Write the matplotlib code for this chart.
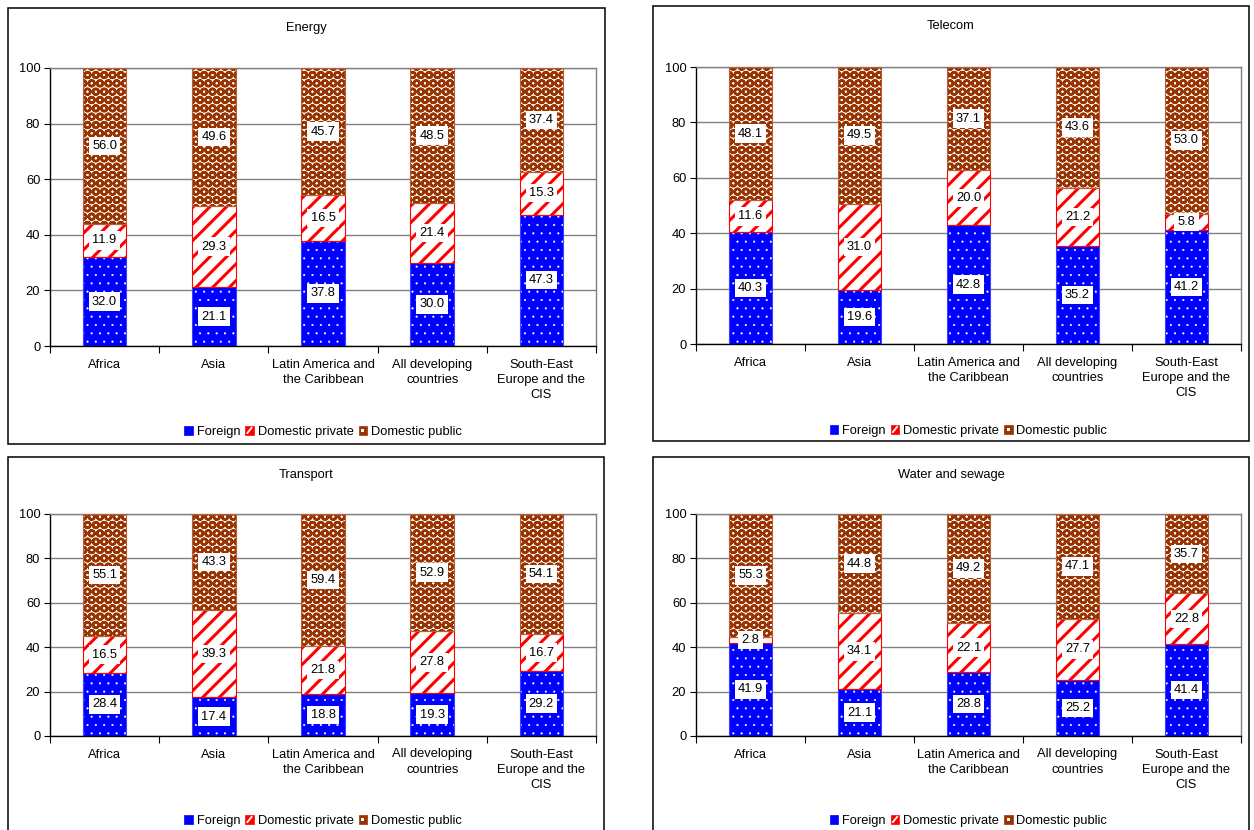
import numpy as np
import matplotlib
matplotlib.use("Agg")
import matplotlib.pyplot as plt
from matplotlib.patches import Rectangle
from matplotlib.lines import Line2D
from matplotlib.legend_handler import HandlerBase

plt.rcParams["font.family"] = ["Liberation Sans", "DejaVu Sans"]
plt.rcParams["font.size"] = 9.3

regions = ["Africa", "Asia", "Latin America and\nthe Caribbean",
           "All developing\ncountries", "South-East\nEurope and the\nCIS"]
series_names = ["Foreign", "Domestic private", "Domestic public"]

energy_foreign = [32.0, 21.1, 37.8, 30.0, 47.3]
energy_private = [11.9, 29.3, 16.5, 21.4, 15.3]
energy_public = [56.0, 49.6, 45.7, 48.5, 37.4]

telecom_foreign = [40.3, 19.6, 42.8, 35.2, 41.2]
telecom_private = [11.6, 31.0, 20.0, 21.2, 5.8]
telecom_public = [48.1, 49.5, 37.1, 43.6, 53.0]

transport_foreign = [28.4, 17.4, 18.8, 19.3, 29.2]
transport_private = [16.5, 39.3, 21.8, 27.8, 16.7]
transport_public = [55.1, 43.3, 59.4, 52.9, 54.1]

water_foreign = [41.9, 21.1, 28.8, 25.2, 41.4]
water_private = [2.8, 34.1, 22.1, 27.7, 22.8]
water_public = [55.3, 44.8, 49.2, 47.1, 35.7]

W, H = 1254, 830

# (title, data, panel box px, axes box px, title y px, legend offset)
panels = [
    ("Energy", (energy_foreign, energy_private, energy_public),
     (8, 8, 605, 444), (50, 68, 596, 346), 28, -0.309),
    ("Telecom", (telecom_foreign, telecom_private, telecom_public),
     (653, 6, 1249, 441), (696, 67, 1241, 344), 26, -0.314),
    ("Transport", (transport_foreign, transport_private, transport_public),
     (8, 457, 604, 845), (50, 514, 596, 736), 475, -0.383),
    ("Water and sewage", (water_foreign, water_private, water_public),
     (653, 457, 1249, 845), (696, 514, 1241, 736), 475, -0.383),
]

# face colour, hatch colour, hatch, hatch width, outline colour
styles = [
    ("#0000FF", "white", "..", 0.3, "#3f3fff"),
    ("white", "#FF0000", "//", 2.2, "#FF0000"),
    ("white", "#993300", "OO", 1.8, "#b5603a"),
]
key_marks = ["", "/", "o"]


class KeyHandler(HandlerBase):
    """Small square legend key with a white slash or inner square."""

    def create_artists(self, legend, orig_handle, xdescent, ydescent,
                       width, height, fontsize, trans):
        x0, y0 = -xdescent, -ydescent
        face = orig_handle.get_facecolor()
        mark = orig_handle.get_label()
        arts = [Rectangle((x0, y0), width, height, facecolor=face,
                          edgecolor=face, linewidth=0.5, transform=trans)]
        if mark == "/":
            arts.append(Line2D([x0 + width * 0.25, x0 + width * 0.75],
                               [y0 + height * 0.2, y0 + height * 0.8],
                               color="white", linewidth=1.3, transform=trans))
        elif mark == "o":
            arts.append(Rectangle((x0 + width * 0.3, y0 + height * 0.3),
                                  width * 0.4, height * 0.4, facecolor="white",
                                  edgecolor="none", transform=trans))
        return arts


def hatched_bar(ax, x, heights, bottoms, style, width=0.4):
    face, hcolor, hatch, hlw, outline = style
    with plt.rc_context({"hatch.linewidth": hlw}):
        bars = ax.bar(x, heights, width, bottom=bottoms, color=face,
                      edgecolor=hcolor, linewidth=0, hatch=hatch, zorder=2)
    for b in bars:
        if hasattr(b, "set_hatch_linewidth"):
            b.set_hatch_linewidth(hlw)
    ax.bar(x, heights, width, bottom=bottoms, fill=False,
           edgecolor=outline, linewidth=0.8, zorder=3)
    return bars


fig = plt.figure(figsize=(W / 100, H / 100), dpi=100)

for title, data, pbox, abox, ty, leg_y in panels:
    x0, y0, x1, y1 = pbox
    fig.add_artist(Rectangle((x0 / W, 1 - y1 / H), (x1 - x0) / W, (y1 - y0) / H,
                             transform=fig.transFigure, fill=False,
                             edgecolor="black", linewidth=1.1))
    fig.text((x0 + x1) / 2 / W, 1 - ty / H, title, ha="center", va="center")

    l, t, r, b = abox
    ax = fig.add_axes([l / W, 1 - b / H, (r - l) / W, (b - t) / H])
    x = np.arange(len(regions))
    bottom = np.zeros(len(regions))
    for vals, style in zip(data, styles):
        vals = np.array(vals)
        hatched_bar(ax, x, vals, bottom, style)
        for xi, v, b0 in zip(x, vals, bottom):
            ax.text(xi, b0 + v / 2, f"{v:.1f}", ha="center", va="center",
                    zorder=5, bbox=dict(facecolor="white", edgecolor="none", pad=2.3))
        bottom = bottom + vals

    ax.set_xlim(-0.5, len(regions) - 0.5)
    ax.set_ylim(0, 100)
    ax.set_yticks(range(0, 101, 20))
    ax.yaxis.grid(True, color="#808080", linewidth=1.0, zorder=0)
    ax.set_axisbelow(True)
    ax.set_xticks(x)
    ax.set_xticklabels(regions, linespacing=1.35)
    ax.set_xticks(np.arange(-0.5, len(regions)), minor=True)
    ax.tick_params(axis="x", which="major", length=0, pad=9)
    ax.tick_params(axis="x", which="minor", length=5, width=0.8, direction="out")
    ax.tick_params(axis="y", length=4, width=0.8, pad=3)
    for side in ("left", "bottom"):
        ax.spines[side].set_color("black")
        ax.spines[side].set_linewidth(1.0)
    for side in ("top", "right"):
        ax.spines[side].set_color("#808080")
        ax.spines[side].set_linewidth(1.0)

    handles = [Rectangle((0, 0), 1, 1, facecolor=s[0] if i == 0 else s[1], label=m)
               for i, (s, m) in enumerate(zip(styles, key_marks))]
    ax.legend(handles, series_names, loc="center", bbox_to_anchor=(0.5, leg_y),
              ncol=3, frameon=False, handlelength=0.65, handleheight=0.65,
              handletextpad=0.3, columnspacing=0.4, borderaxespad=0,
              handler_map={Rectangle: KeyHandler()})

fig.savefig("out.png", dpi=100)
